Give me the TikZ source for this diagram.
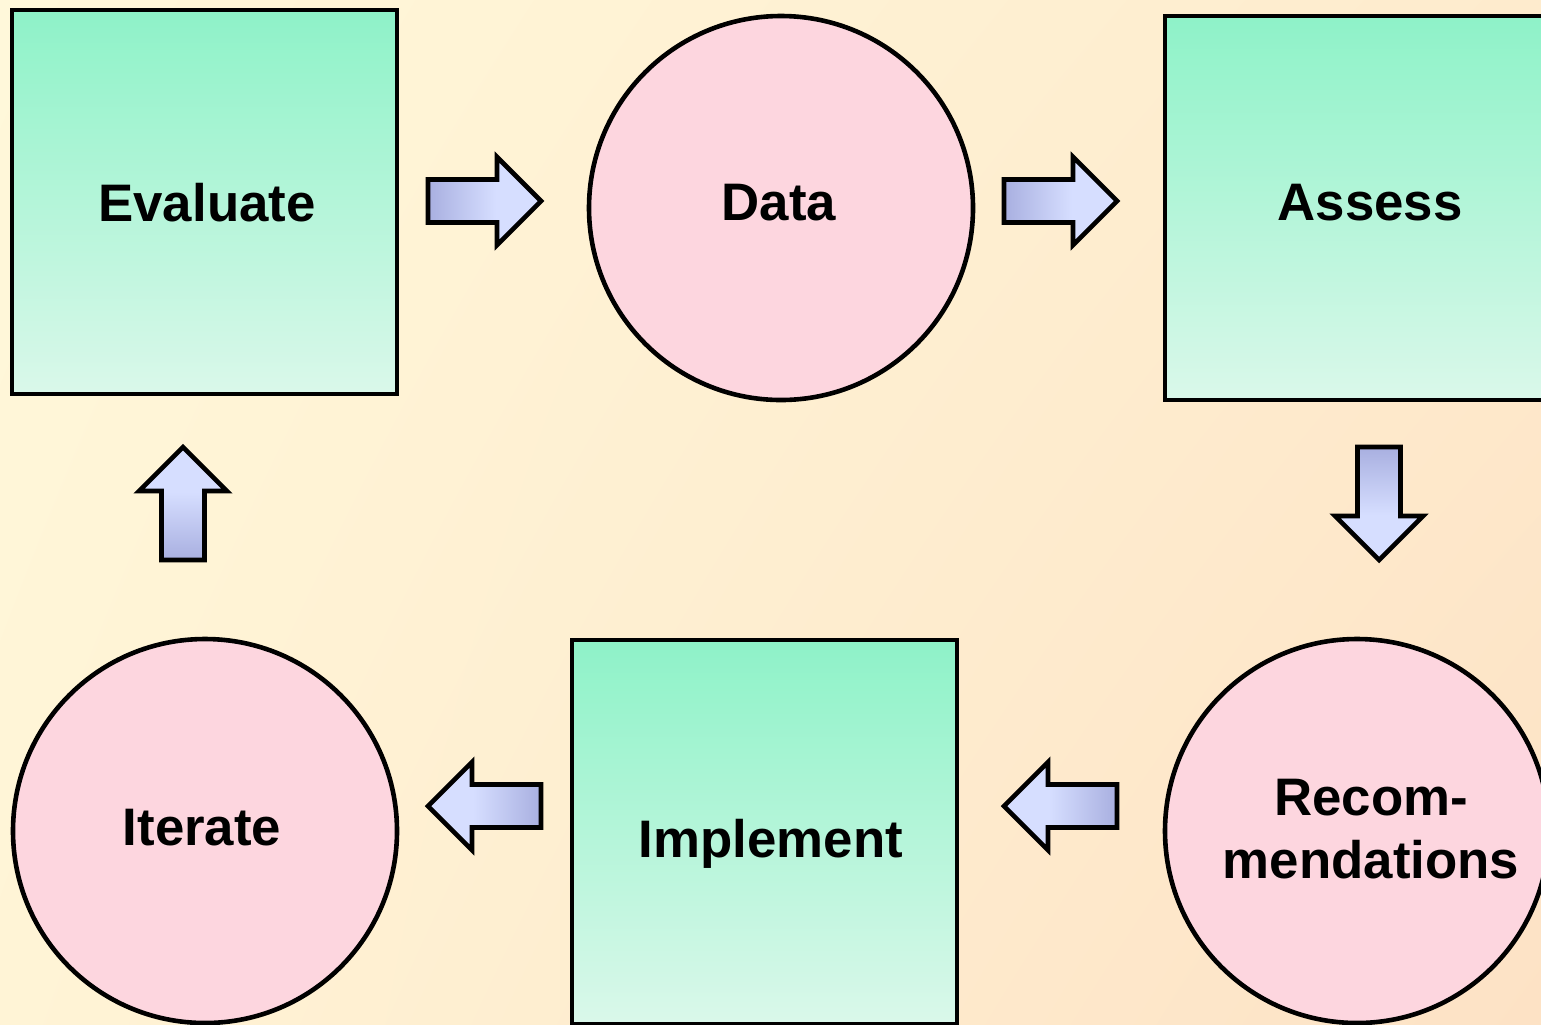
\documentclass[tikz,border=0pt]{standalone}
\usepackage{fontspec}
\setmainfont{Liberation Sans}
\usetikzlibrary{calc,shadings}

\definecolor{bgTL}{HTML}{FFF8DA}
\definecolor{bgTR}{HTML}{FEEBCD}
\definecolor{bgBL}{HTML}{FFF4D6}
\definecolor{bgBR}{HTML}{FDE2C5}
\definecolor{boxTop}{HTML}{8EF2C8}
\definecolor{boxBot}{HTML}{DAF8EA}
\definecolor{discFill}{HTML}{FDD6DF}
\definecolor{arrDark}{HTML}{8288C6}
\definecolor{arrLight}{HTML}{D6DEFF}
\definecolor{arrTip}{HTML}{B4C8C4}

\pgfdeclarehorizontalshading{arrowshade}{100bp}{%
  color(0bp)=(arrDark); color(55bp)=(arrLight); color(88bp)=(arrLight); color(100bp)=(arrTip)}

\tikzset{
  stage/.style={draw=black, line width=2.3pt, inner sep=0pt},
  greenbox/.style={stage, rectangle, minimum width=192.5pt, minimum height=192pt,
    top color=boxTop, bottom color=boxBot},
  pinkdisc/.style={stage, circle, minimum size=192pt, fill=discFill},
  lbl/.style={inner sep=0pt, font=\bfseries\fontsize{26.4}{31.5}\selectfont, align=center},
  blockarrow/.style={draw=black, line width=2.3pt, line join=miter, shading=arrowshade}
}

% block arrow of length 113 pointing along +x, drawn at (#1) turned by #2,
% shading angle #3
\newcommand{\blockarrow}[3]{%
  \begin{scope}[shift={(#1)}, rotate=#2]
    \shade[blockarrow, shading angle=#3]
      (0,-21.5) -- (69,-21.5) -- (69,-44) -- (113,0) -- (69,44) -- (69,21.5) -- (0,21.5) -- cycle;
  \end{scope}}

\begin{document}
\begin{tikzpicture}[x=0.5pt, y=-0.5pt]
  \useasboundingbox (0,0) rectangle (1541,1024);
  \clip (0,0) rectangle (1541,1024);
  \shade[upper left=bgTL, upper right=bgTR, lower left=bgBL, lower right=bgBR]
    (0,0) rectangle (1541,1024);

  % stages of the cycle
  \node[greenbox] (evaluate) at (204.5,202) {};
  \node[pinkdisc] (data) at (781,208) {};
  \node[greenbox] (assess) at (1357.5,208) {};
  \node[pinkdisc] (recom) at (1357,831) {};
  \node[greenbox] (implement) at (764.5,832) {};
  \node[pinkdisc] (iterate) at (205,831) {};

  % stage labels
  \node[lbl] (tEvaluate) at (207,203) {Evaluate};
  \node[lbl] (tData) at (779,203) {Data};
  \node[lbl] (tAssess) at (1370,203) {Assess};
  \node[lbl] (tRecom) at (1371,829) {Recom-\\mendations};
  \node[lbl] (tImplement) at (771,844) {Implement};
  \node[lbl] (tIterate) at (202,828) {Iterate};

  % arrows between the stages
  \coordinate (a1) at (428,201);
  \coordinate (a2) at (1004,201);
  \coordinate (a3) at (1379,447);
  \coordinate (a4) at (1117,806);
  \coordinate (a5) at (541,806);
  \coordinate (a6) at (183,560);
  \blockarrow{a1}{0}{0}
  \blockarrow{a2}{0}{0}
  \blockarrow{a3}{-90}{270}
  \blockarrow{a4}{180}{180}
  \blockarrow{a5}{180}{180}
  \blockarrow{a6}{90}{90}
\end{tikzpicture}
\end{document}
